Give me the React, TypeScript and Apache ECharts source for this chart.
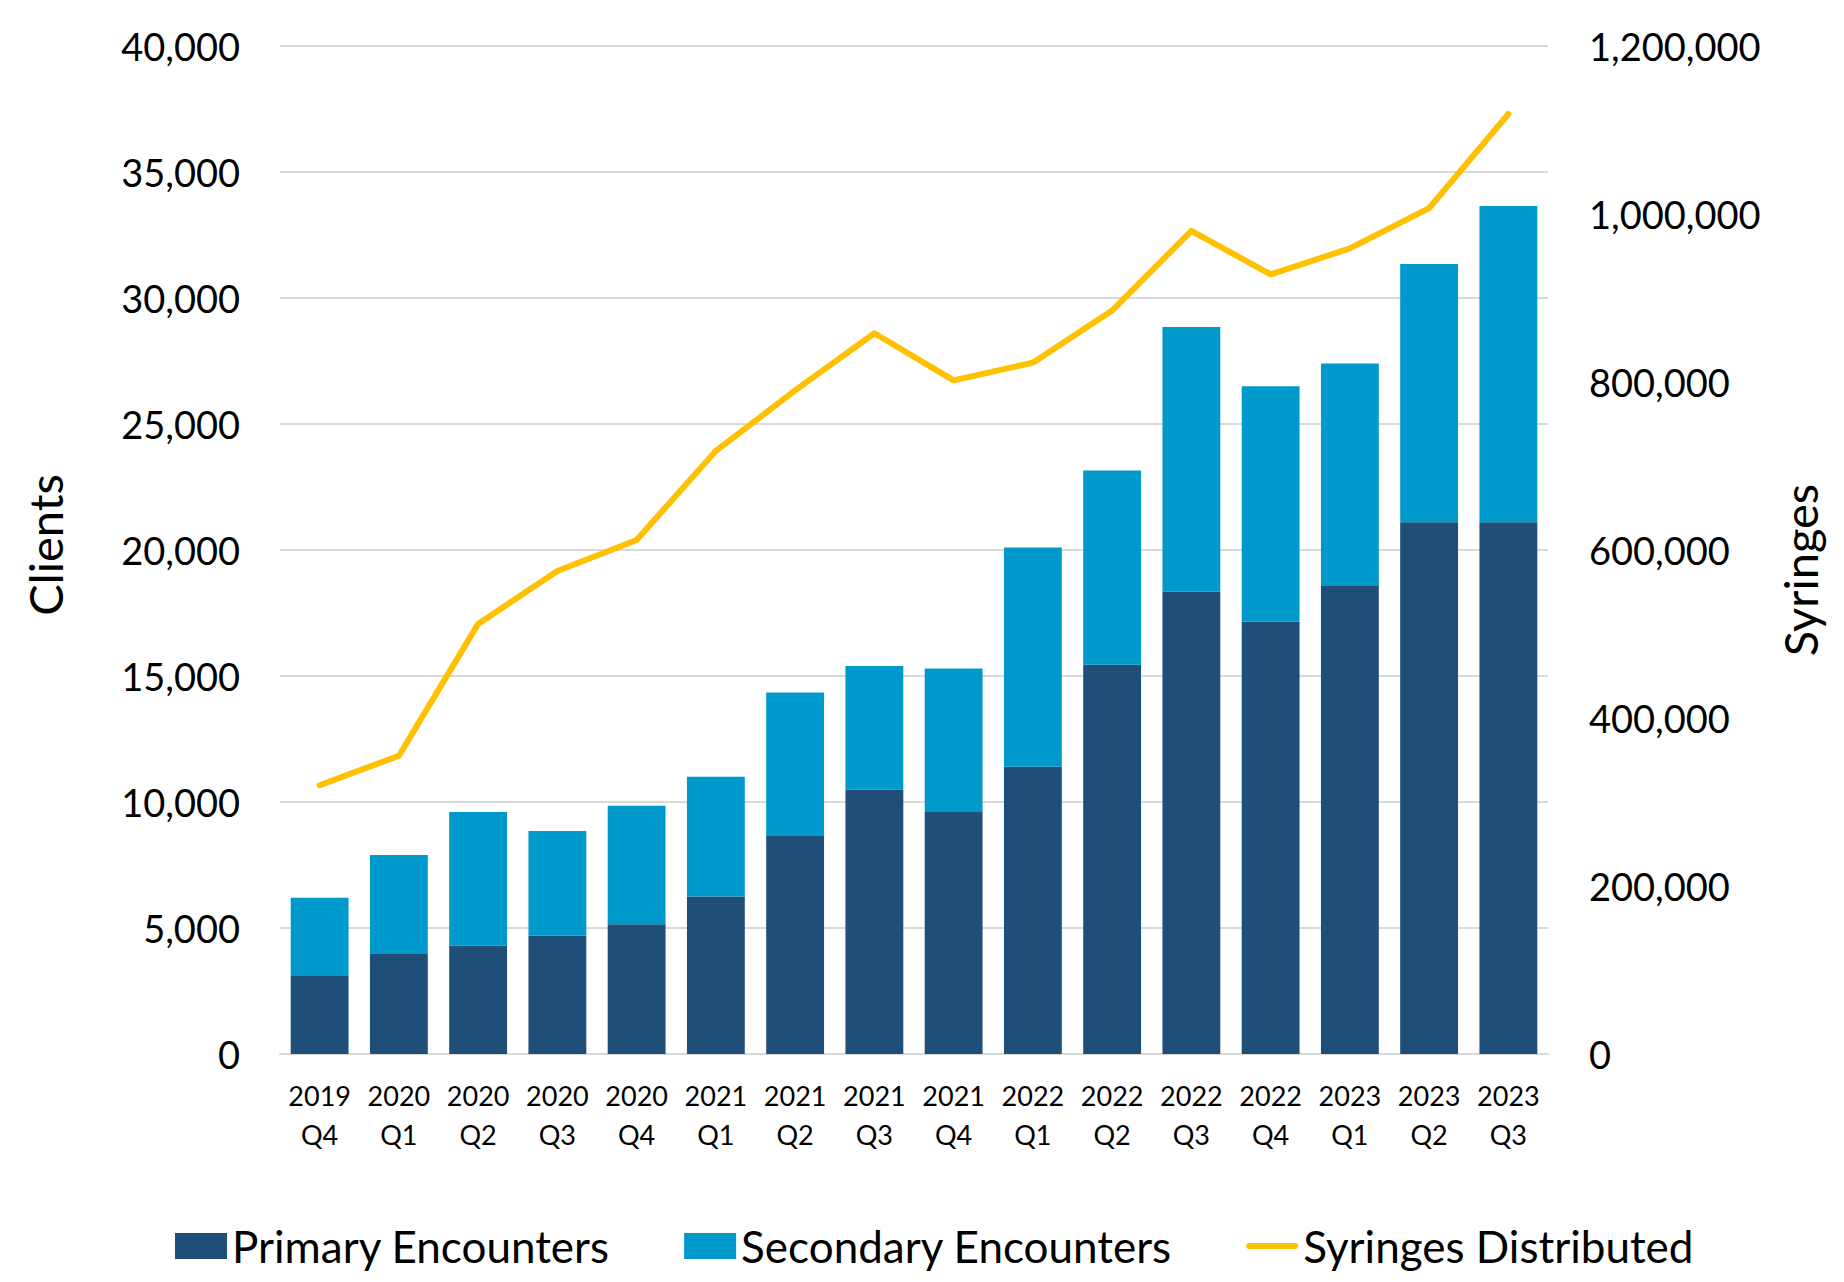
import React, { useEffect, useRef } from "react";
import * as echarts from "echarts";

const categories = [
  "2019\nQ4", "2020\nQ1", "2020\nQ2", "2020\nQ3", "2020\nQ4",
  "2021\nQ1", "2021\nQ2", "2021\nQ3", "2021\nQ4",
  "2022\nQ1", "2022\nQ2", "2022\nQ3", "2022\nQ4",
  "2023\nQ1", "2023\nQ2", "2023\nQ3",
];
const primaryEncounters = [3100, 4000, 4300, 4700, 5150, 6250, 8650, 10500, 9600, 11400, 15450, 18350, 17150, 18600, 21100, 21100];
const secondaryEncounters = [3100, 3900, 5300, 4150, 4700, 4750, 5700, 4900, 5700, 8700, 7700, 10500, 9350, 8800, 10250, 12550];
const syringesDistributed = [320000, 355000, 512000, 575000, 612000, 718000, 790000, 858000, 802000, 823000, 885000, 980000, 928000, 959000, 1007000, 1119000];

const FONT = "Lato, 'Open Sans', sans-serif";
const fmt = (v: number) => v.toLocaleString("en-US");
const LINE_ICON = "path://M0,0 L0.01,0 Z M0,26 L0.01,26 Z M3,10 L49,10 A3,3 0 0 1 49,16 L3,16 A3,3 0 0 1 3,10 Z";

export default function App() {
  const ref = useRef<HTMLDivElement>(null);
  useEffect(() => {
    if (!ref.current) return;
    const chart = echarts.init(ref.current, undefined, { renderer: "svg" });
    chart.setOption({
      animation: false,
      backgroundColor: "#ffffff",
      textStyle: { fontFamily: FONT, color: "#000" },
      grid: { left: 280, right: 296, top: 46, bottom: 228, containLabel: false },
      legend: {
        bottom: 9,
        left: 170,
        itemWidth: 52,
        itemHeight: 26,
        itemGap: 74,
        textStyle: { fontFamily: FONT, fontSize: 44, color: "#000" },
        data: [
          { name: "Primary Encounters", icon: "rect" },
          { name: "Secondary Encounters", icon: "rect" },
          { name: "Syringes Distributed", icon: LINE_ICON, itemStyle: { color: "#FFC000", borderWidth: 0 } },
        ],
      },
      xAxis: {
        type: "category",
        data: categories,
        axisLine: { show: true, lineStyle: { color: "#D9D9D9", width: 2 } },
        axisTick: { show: false },
        axisLabel: { fontFamily: FONT, fontSize: 27, color: "#000", lineHeight: 39, margin: 22, interval: 0 },
      },
      yAxis: [
        {
          type: "value",
          min: 0,
          max: 40000,
          interval: 5000,
          axisLine: { show: false },
          axisTick: { show: false },
          splitLine: { lineStyle: { color: "#D9D9D9", width: 2 } },
          axisLabel: { fontFamily: FONT, fontSize: 38, color: "#000", margin: 40, formatter: (v: number) => fmt(v) },
        },
        {
          type: "value",
          min: 0,
          max: 1200000,
          interval: 200000,
          axisLine: { show: false },
          axisTick: { show: false },
          splitLine: { show: false },
          axisLabel: { fontFamily: FONT, fontSize: 38, color: "#000", margin: 41, formatter: (v: number) => fmt(v) },
        },
      ],
      series: [
        {
          name: "Primary Encounters",
          type: "bar",
          stack: "enc",
          data: primaryEncounters,
          barCategoryGap: "27%",
          itemStyle: { color: "#1F4E79" },
        },
        {
          name: "Secondary Encounters",
          type: "bar",
          stack: "enc",
          data: secondaryEncounters,
          barCategoryGap: "27%",
          itemStyle: { color: "#0099CC" },
        },
        {
          name: "Syringes Distributed",
          type: "line",
          yAxisIndex: 1,
          data: syringesDistributed,
          symbol: "none",
          lineStyle: { color: "#FFC000", width: 6, cap: "round", join: "round" },
          itemStyle: { color: "#FFC000" },
        },
      ],
      graphic: [
        {
          type: "text",
          x: 45,
          y: 545,
          rotation: Math.PI / 2,
          style: { text: "Clients", fontFamily: FONT, fontSize: 47, fill: "#000", align: "center", verticalAlign: "middle" },
        },
        {
          type: "text",
          x: 1800,
          y: 570,
          rotation: Math.PI / 2,
          style: { text: "Syringes", fontFamily: FONT, fontSize: 47, fill: "#000", align: "center", verticalAlign: "middle" },
        },
      ],
    });
    return () => chart.dispose();
  }, []);
  return (
    <div
      ref={ref}
      style={{ position: "fixed", left: 0, top: 0, width: 1844, height: 1282, background: "#fff" }}
    />
  );
}
